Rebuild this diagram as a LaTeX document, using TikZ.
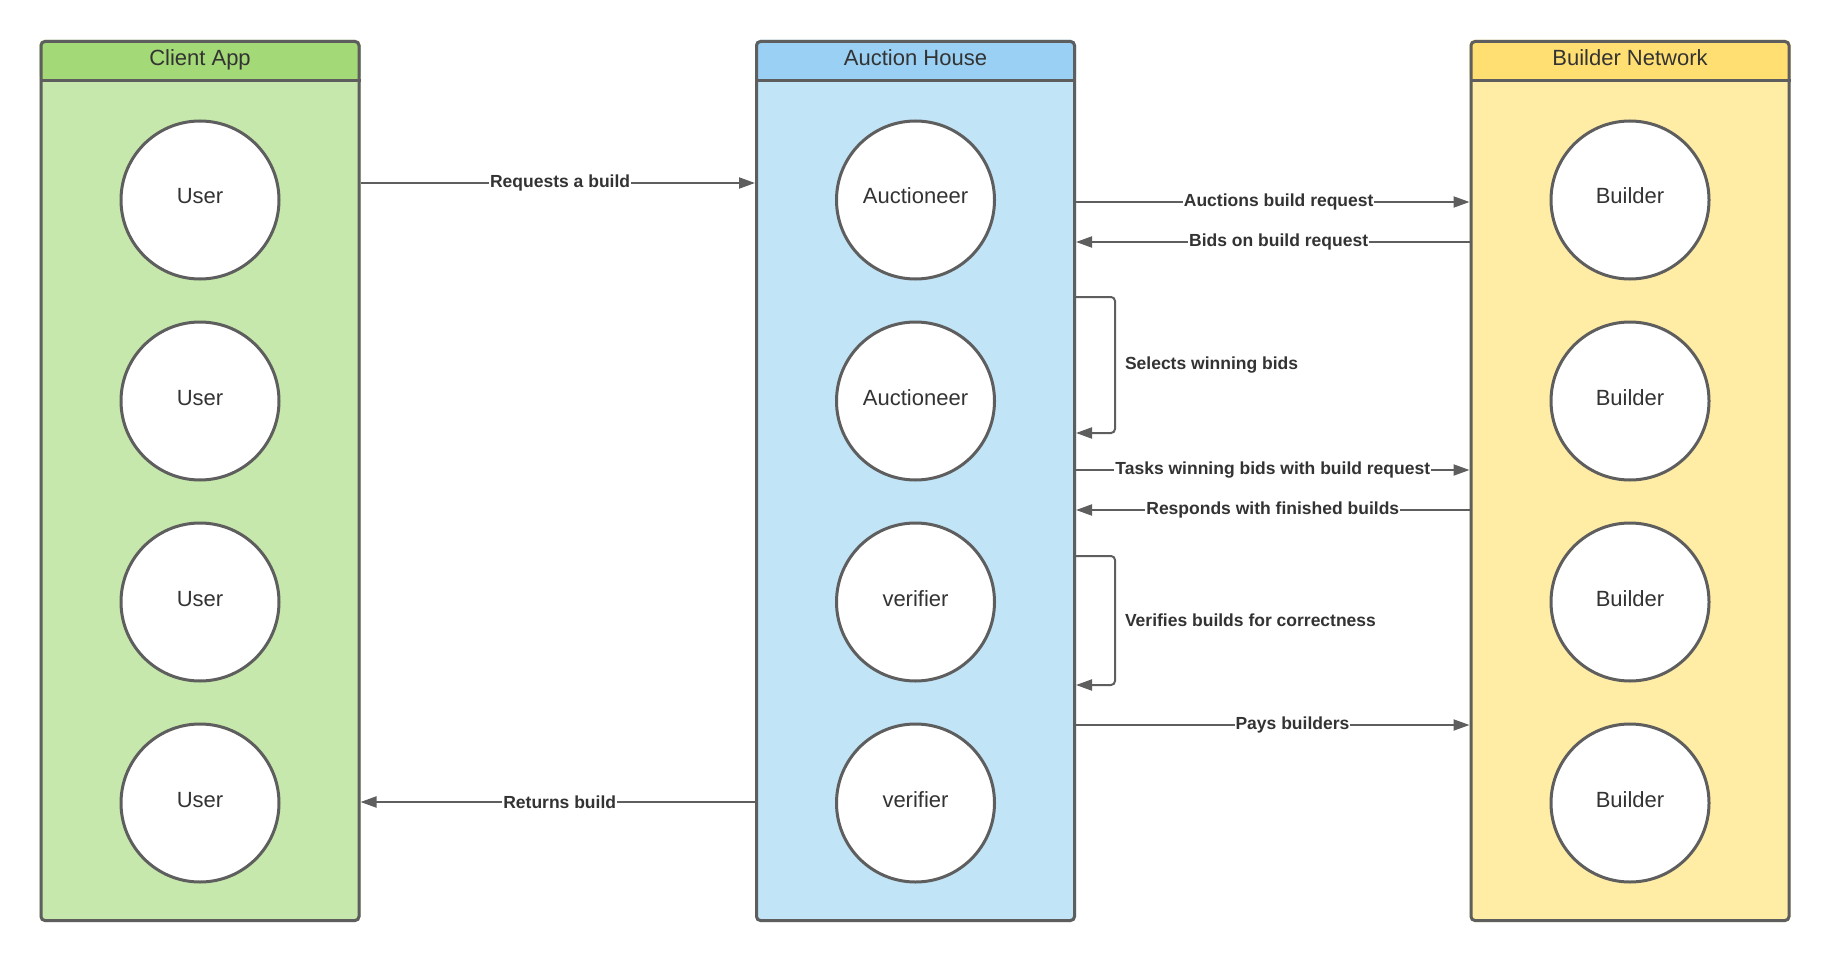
\documentclass[tikz,border=0pt]{standalone}
\usepackage{fontspec}
\setmainfont{Liberation Sans}
\usepackage{tikz}
\usetikzlibrary{backgrounds,arrows.meta}

\definecolor{lineGrey}{HTML}{5E5E5E}
\definecolor{textGrey}{HTML}{333333}
\definecolor{clientHead}{HTML}{A3D977}
\definecolor{clientBody}{HTML}{C7E8AC}
\definecolor{houseHead}{HTML}{99D0F3}
\definecolor{houseBody}{HTML}{C1E4F7}
\definecolor{builderHead}{HTML}{FFDF71}
\definecolor{builderBody}{HTML}{FFEDA6}

\begin{document}
\begin{tikzpicture}[
            x=1pt, y=1pt,
            lane/.style = {
                rectangle,
                draw=lineGrey,
                line width=3pt,
                rounded corners=4pt,
                minimum width=318pt,
                minimum height=879pt
            },
            lanetitle/.style = {
                anchor=base,
                font=\fontsize{22}{26}\selectfont,
                text=textGrey
            },
            member/.style = {
                circle,
                draw=lineGrey,
                line width=3pt,
                fill=white,
                minimum size=158pt,
                text height=12pt,
                text depth=4pt,
                font=\fontsize{22}{26}\selectfont,
                text=textGrey
            },
            flow/.style = {
                draw=lineGrey,
                line width=2pt,
                -{Triangle[length=16pt,width=11pt]}
            },
            msg/.style = {
                fill=white,
                inner sep=1pt,
                font=\bfseries\fontsize{17.5}{21}\selectfont,
                text=textGrey
            }
        ]
            \useasboundingbox (0,0) rectangle (1831,-960);

            \node[lane] (client) at (200,-481) {};
            \node[lane] (house) at (915.5,-481) {};
            \node[lane] (network) at (1630,-481) {};

            \begin{scope}[on background layer]
                \foreach \lane/\head/\body in {client/clientHead/clientBody, house/houseHead/houseBody, network/builderHead/builderBody} {
                    \fill[\body, rounded corners=5pt] (\lane.north west) rectangle (\lane.south east);
                    \fill[\head, rounded corners=5pt] (\lane.north west) rectangle ([yshift=-41pt]\lane.north east);
                }
            \end{scope}

            \foreach \lane in {client, house, network} {
                \draw[lineGrey, line width=3pt] ([yshift=-41pt]\lane.north west) -- ([yshift=-41pt]\lane.north east);
            }

            \node[lanetitle] (clientTitle) at ([yshift=-26pt]client.north) {Client App};
            \node[lanetitle] (houseTitle) at ([yshift=-26pt]house.north) {Auction House};
            \node[lanetitle] (networkTitle) at ([yshift=-26pt]network.north) {Builder Network};

            \foreach \i in {1,...,4} {
                \node[member] (user\i) at (200, {-200 - (\i - 1) * 201}) {User};
                \node[member] (builder\i) at (1630, {-200 - (\i - 1) * 201}) {Builder};
            }
            \node[member] (auctioneer1) at (915.5,-200) {Auctioneer};
            \node[member] (auctioneer2) at (915.5,-401) {Auctioneer};
            \node[member] (verifier1) at (915.5,-602) {verifier};
            \node[member] (verifier2) at (915.5,-803) {verifier};

            \draw[flow] (client.east |- 0,-183) -- node[msg, pos=0.506] {Requests a build} (house.west |- 0,-183);
            \draw[flow] (house.east |- 0,-202) -- node[msg, pos=0.515] {Auctions build request} (network.west |- 0,-202);
            \draw[flow] (network.west |- 0,-242) -- node[msg, pos=0.485] {Bids on build request} (house.east |- 0,-242);

            \draw[flow, rounded corners=4pt] (house.east |- 0,-297) -- (1115,-297)
                -- node[msg, right=8pt] {Selects winning bids} (1115,-433) -- (house.east |- 0,-433);

            \draw[flow] (house.east |- 0,-470) -- node[msg] {Tasks winning bids with build request} (network.west |- 0,-470);
            \draw[flow] (network.west |- 0,-510) -- node[msg] {Responds with finished builds} (house.east |- 0,-510);

            \draw[flow, rounded corners=4pt] (house.east |- 0,-556) -- (1115,-556)
                -- node[msg, right=8pt] {Verifies builds for correctness} (1115,-685) -- (house.east |- 0,-685);

            \draw[flow] (house.east |- 0,-725) -- node[msg, pos=0.55] {Pays builders} (network.west |- 0,-725);
            \draw[flow] (house.west |- 0,-802) -- node[msg, pos=0.495] {Returns build} (client.east |- 0,-802);

        \end{tikzpicture}
\end{document}
